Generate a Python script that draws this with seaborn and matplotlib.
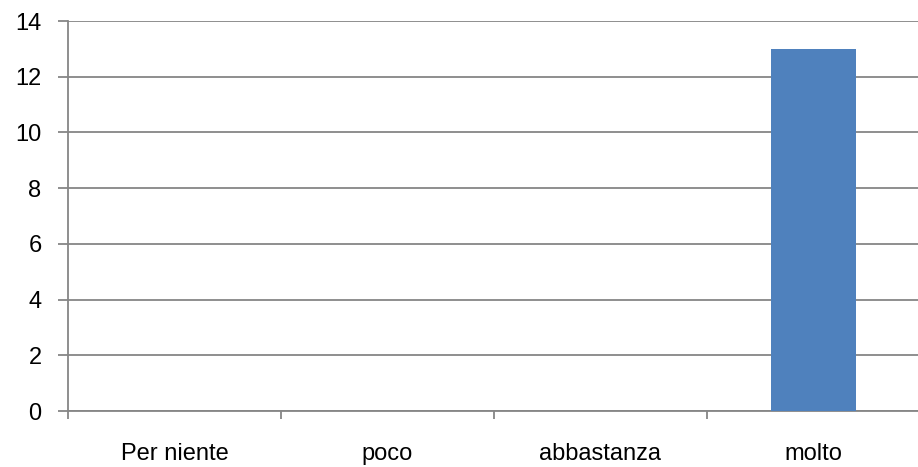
import matplotlib
matplotlib.use("Agg")
import matplotlib.pyplot as plt
import seaborn as sns
import pandas as pd
from matplotlib.ticker import FixedLocator

categories = ["Per niente", "poco", "abbastanza", "molto"]
values = [0, 0, 0, 13]
y_ticks = [0, 2, 4, 6, 8, 10, 12, 14]

sns.set_theme(style="white")
plt.rcParams['font.family'] = ['Liberation Sans', 'DejaVu Sans']

df = pd.DataFrame({"cat": categories, "val": values})

fig = plt.figure(figsize=(9.18, 4.67), dpi=100)
ax = fig.add_axes([68/918, 56/467, (920-68)/918, (411-21)/467])

grid_col = "#868686"
sns.barplot(data=df, x="cat", y="val", color="#4F81BD", width=0.4,
            saturation=1, ax=ax, zorder=3, linewidth=0, edgecolor="none")

ax.set_ylim(0, 14)
ax.set_xlim(-0.5, len(categories) - 0.5)
ax.set_yticks(y_ticks)
ax.set_yticklabels([str(t) for t in y_ticks])
ax.yaxis.grid(True, color=grid_col, linewidth=1.3, zorder=0)
ax.xaxis.grid(False)
ax.set_axisbelow(True)
ax.set_xlabel("")
ax.set_ylabel("")

for s in ["top", "right"]:
    ax.spines[s].set_visible(False)
for s in ["left", "bottom"]:
    ax.spines[s].set_color(grid_col)
    ax.spines[s].set_linewidth(1.3)

ax.tick_params(axis="y", which="major", length=7, width=1.3, color=grid_col,
               direction="out", left=True, pad=12, labelsize=17, labelcolor="black")
ax.tick_params(axis="x", which="major", length=0, pad=23, labelsize=17, labelcolor="black")
ax.xaxis.set_minor_locator(FixedLocator([i - 0.5 for i in range(len(categories) + 1)]))
ax.tick_params(axis="x", which="minor", length=6, width=1.3, color=grid_col,
               direction="out", bottom=True)

fig.savefig("out.png", dpi=100)
